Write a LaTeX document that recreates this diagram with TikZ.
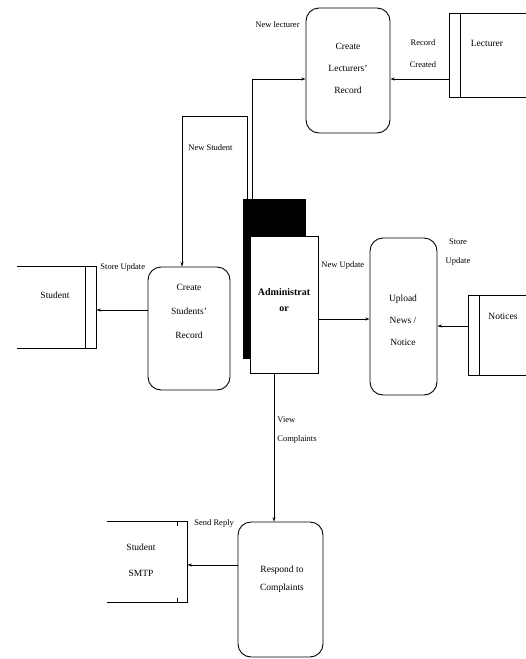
\documentclass[tikz,border=0pt]{standalone}
\usepackage{fontspec}
\setmainfont{Liberation Serif}
\usetikzlibrary{arrows.meta, positioning, calc}

\begin{document}
\begin{tikzpicture}[
    x=1pt, y=-1pt,
    line width=0.9pt,
    >={Stealth[length=4.5pt,width=3pt]},
    process/.style={draw, rounded corners=13pt, inner sep=0pt},
    ptext/.style={align=center, inner sep=0pt, font=\fontsize{9.5}{22}\selectfont},
    store/.style={inner sep=0pt},
    stext/.style={align=center, inner sep=0pt, font=\fontsize{9.5}{26}\selectfont},
    flow/.style={draw, ->},
    lbl/.style={align=left, inner sep=0pt, font=\fontsize{8.5}{19}\selectfont}
]
    \useasboundingbox (0,0) rectangle (526,659);

    % ==================== ADMINISTRATOR ====================
    \node[draw, fill=black, minimum width=62pt, minimum height=159pt] (shadow) at (274,278.5) {};
    \node[draw, fill=white, minimum width=68pt, minimum height=137pt] (admin) at (284,304.5) {};
    \node[ptext, font=\fontsize{10}{16}\selectfont\bfseries] (admintext) at (284,300) {Administrat\\or};

    % ==================== PROCESSES ====================
    \node[process, minimum width=84pt, minimum height=125pt] (lproc) at (348,70.5) {};
    \node[ptext] (lproctext) at (348,68) {Create\\Lecturers'\\Record};

    \node[process, minimum width=82pt, minimum height=123pt] (sproc) at (189,328.5) {};
    \node[ptext, font=\fontsize{9.5}{24}\selectfont] (sproctext) at (189,311) {Create\\Students'\\Record};

    \node[process, minimum width=67pt, minimum height=157pt] (uproc) at (403.5,316.5) {};
    \node[ptext] (uproctext) at (403,320) {Upload\\News /\\Notice};

    \node[process, minimum width=85pt, minimum height=135pt] (rproc) at (280.5,589.5) {};
    \node[ptext, font=\fontsize{9.5}{18}\selectfont] (rproctext) at (282,579) {Respond to\\Complaints};

    % ==================== DATA STORES ====================
    % Lecturer
    \node[store, minimum width=76pt, minimum height=83pt] (lstore) at (488,55.5) {};
    \draw (lstore.north east) -- (lstore.north west) -- (lstore.south west) -- (lstore.south east);
    \draw ([xshift=11pt]lstore.north west) -- ([xshift=11pt]lstore.south west);
    \node[stext] (lstoretext) at (487,43) {Lecturer};

    % Student
    \node[store, minimum width=79pt, minimum height=81pt] (sstore) at (56.5,307.5) {};
    \draw (sstore.north west) -- (sstore.north east) -- (sstore.south east) -- (sstore.south west);
    \draw ([xshift=-11pt]sstore.north east) -- ([xshift=-11pt]sstore.south east);
    \node[stext] (sstoretext) at (55,295) {Student};

    % Notices
    \node[store, minimum width=57pt, minimum height=79pt] (nstore) at (497.5,335.5) {};
    \draw (nstore.north east) -- (nstore.north west) -- (nstore.south west) -- (nstore.south east);
    \draw ([xshift=11pt]nstore.north west) -- ([xshift=11pt]nstore.south west);
    \node[stext] (nstoretext) at (503,316) {Notices};

    % Student SMTP
    \node[store, minimum width=80pt, minimum height=80pt] (mstore) at (147,562) {};
    \draw (mstore.north west) -- (mstore.north east) -- (mstore.south east) -- (mstore.south west);
    \draw ([xshift=-10pt]mstore.north east) -- ++(0,4);
    \draw ([xshift=-10pt]mstore.south east) -- ++(0,-4);
    \node[stext] (mstoretext) at (141,560) {Student\\SMTP};

    % ==================== FLOWS ====================
    % New lecturer
    \draw[flow] ([xshift=10pt]shadow.north west) |- ([yshift=-8.5pt]lproc.west);
    \node[lbl, anchor=west] (newlect) at (255,25) {New lecturer};
    % Record Created
    \draw[flow] ([yshift=-23.5pt]lstore.west) -- ([yshift=-8.5pt]lproc.east);
    \node[lbl, align=center] (reccreated) at (423,54) {Record\\[3pt]Created};
    % New Student
    \draw[flow] ([xshift=5pt]shadow.north west) -- ++(0,-82) -| ([xshift=-7pt]sproc.north);
    \node[lbl, anchor=west] (newstud) at (188,148) {New Student};
    % Store Update (students)
    \draw[flow] ([yshift=18.5pt]sproc.west) -- ([yshift=-2.5pt]sstore.east);
    \node[lbl, anchor=west] (storeupd) at (100,267) {Store Update};
    % New Update
    \draw[flow] ([yshift=-14.5pt]admin.east) -- ([yshift=-2.5pt]uproc.west);
    \node[lbl, anchor=west] (newupd) at (321,265) {New Update};
    % Store Update (notices)
    \draw[flow] ([yshift=9.5pt]nstore.west) -- ([yshift=-9.5pt]uproc.east);
    \node[lbl, align=center] (storeupdn) at (458,252) {Store\\Update};
    % View Complaints
    \draw[flow] ([xshift=-10pt]admin.south) -- ([xshift=-6.5pt]rproc.north);
    \node[lbl, anchor=west] (viewcomp) at (277,430) {View\\Complaints};
    % Send Reply
    \draw[flow] ([yshift=24.5pt]rproc.west) -- ([yshift=-3pt]mstore.east);
    \node[lbl, anchor=west] (sendreply) at (194,523) {Send Reply};
\end{tikzpicture}
\end{document}
